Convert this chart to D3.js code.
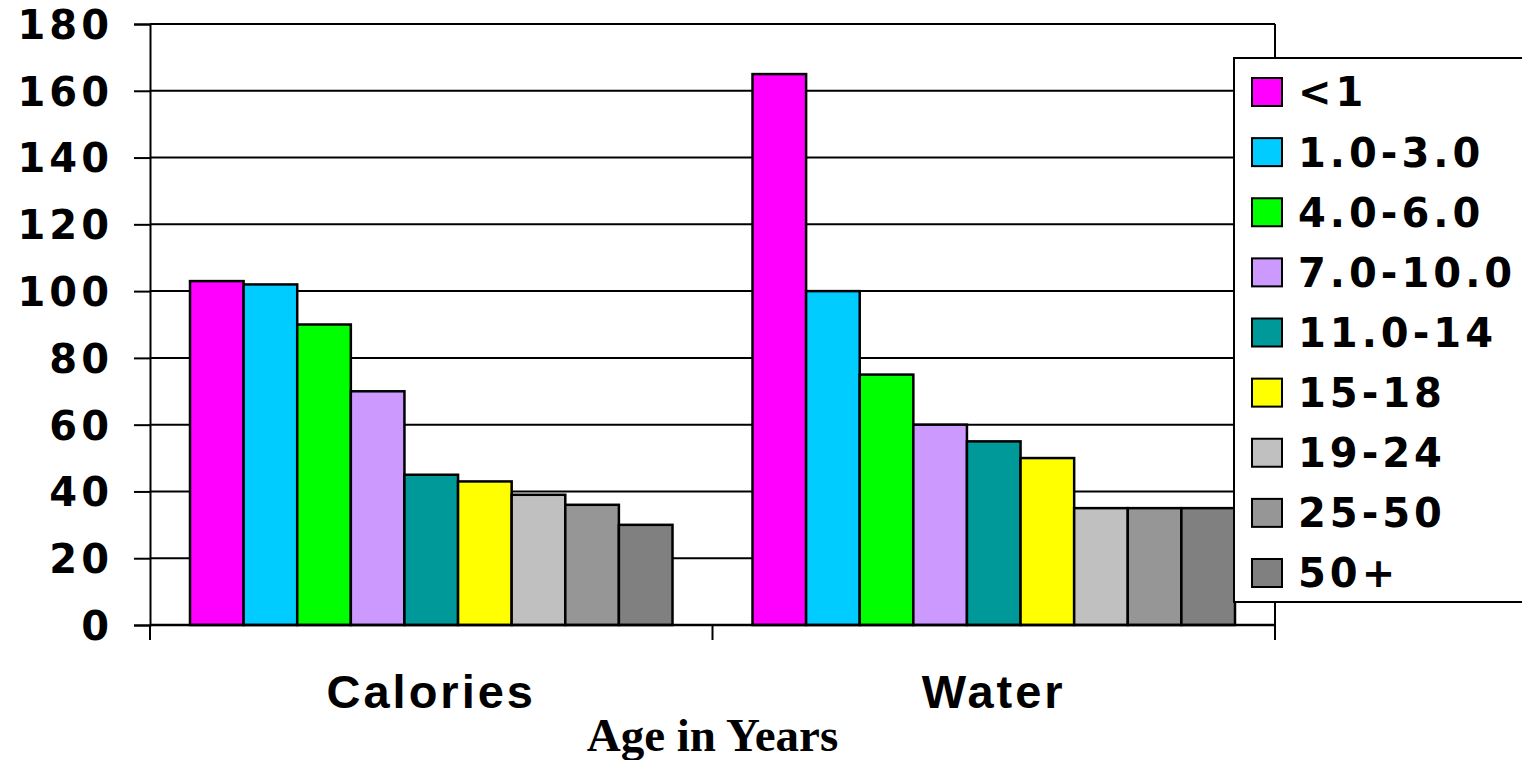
<!DOCTYPE html>
<html>
<head>
<meta charset="utf-8">
<script src="https://cdn.jsdelivr.net/npm/d3@7"></script>
<style>
  html, body { margin: 0; padding: 0; background: #ffffff; }
  svg { display: block; }
</style>
</head>
<body>
<svg id="chart" width="1522" height="760"></svg>
<script>
// Nutrient needs by age group (per kg of body weight)
const categories = ["Calories", "Water"];
const ageGroups = ["<1", "1.0-3.0", "4.0-6.0", "7.0-10.0", "11.0-14", "15-18", "19-24", "25-50", "50+"];
const caloriesValues = [103, 102, 90, 70, 45, 43, 39, 36, 30];
const waterValues = [165, 100, 75, 60, 55, 50, 35, 35, 35];
const yTicks = [0, 20, 40, 60, 80, 100, 120, 140, 160, 180];
const groupColors = ["#FF00FF", "#00CCFF", "#00FF00", "#CC99FF", "#009999", "#FFFF00", "#C0C0C0", "#969696", "#808080"];

const seriesByCategory = { Calories: caloriesValues, Water: waterValues };

const svg = d3.select("#chart");
const plot = { left: 150, top: 24, right: 1275, bottom: 625 };

const x0 = d3.scaleBand().domain(categories).range([plot.left, plot.right]).padding(0);
const x1 = d3.scaleBand().domain(ageGroups)
  .range([40, x0.bandwidth() - 40]).padding(0);
const y = d3.scaleLinear().domain([0, 180]).range([plot.bottom, plot.top]);
const color = d3.scaleOrdinal().domain(ageGroups).range(groupColors);

const axisFont = "'DejaVu Sans', Verdana, sans-serif";

// horizontal gridlines
svg.append("g")
  .selectAll("line")
  .data(yTicks.filter(t => t > 0))
  .join("line")
  .attr("x1", plot.left).attr("x2", plot.right)
  .attr("y1", d => y(d)).attr("y2", d => y(d))
  .attr("stroke", "#000").attr("stroke-width", 2);

// right edge of plot area
svg.append("line")
  .attr("x1", plot.right).attr("x2", plot.right)
  .attr("y1", plot.top).attr("y2", plot.bottom)
  .attr("stroke", "#000").attr("stroke-width", 2);

// bars
const groups = svg.append("g")
  .selectAll("g")
  .data(categories)
  .join("g")
  .attr("transform", d => `translate(${x0(d)},0)`);

groups.selectAll("rect")
  .data(c => ageGroups.map((g, i) => ({ group: g, value: seriesByCategory[c][i] })))
  .join("rect")
  .attr("x", d => x1(d.group))
  .attr("y", d => y(d.value))
  .attr("width", x1.bandwidth())
  .attr("height", d => y(0) - y(d.value))
  .attr("fill", d => color(d.group))
  .attr("stroke", "#000")
  .attr("stroke-width", 2.5);

// y axis
const yAxis = d3.axisLeft(y).tickValues(yTicks).tickSize(16).tickPadding(21);
const yG = svg.append("g").attr("transform", `translate(${plot.left},0)`).call(yAxis);
yG.select(".domain").attr("stroke", "#000").attr("stroke-width", 2);
yG.selectAll(".tick line").attr("stroke", "#000").attr("stroke-width", 2);
yG.selectAll(".tick text")
  .attr("fill", "#000")
  .style("font-family", axisFont)
  .style("font-weight", "bold")
  .style("font-size", "40px")
  .style("letter-spacing", "4px")
  .attr("dy", "0.36em");

// x axis: baseline, separators between categories, labels
svg.append("line")
  .attr("x1", plot.left).attr("x2", plot.right)
  .attr("y1", y(0)).attr("y2", y(0))
  .attr("stroke", "#000").attr("stroke-width", 2.5);

const boundaries = categories.map(c => x0(c)).concat([x0(categories[categories.length - 1]) + x0.bandwidth()]);
svg.append("g")
  .selectAll("line")
  .data(boundaries)
  .join("line")
  .attr("x1", d => d).attr("x2", d => d)
  .attr("y1", y(0)).attr("y2", y(0) + 15)
  .attr("stroke", "#000").attr("stroke-width", 2);

svg.append("g")
  .selectAll("text")
  .data(categories)
  .join("text")
  .attr("x", d => x0(d) + x0.bandwidth() / 2)
  .attr("y", 708)
  .attr("text-anchor", "middle")
  .style("font-family", "'Liberation Sans', Arial, sans-serif")
  .style("font-weight", "bold")
  .style("font-size", "47px")
  .style("letter-spacing", "3px")
  .text(d => d);

svg.append("text")
  .attr("x", (plot.left + plot.right) / 2)
  .attr("y", 751)
  .attr("text-anchor", "middle")
  .style("font-family", "'Liberation Serif', 'Times New Roman', serif")
  .style("font-weight", "bold")
  .style("font-size", "47px")
  .text("Age in Years");

// legend
const legend = svg.append("g");
legend.append("rect")
  .attr("x", 1234).attr("y", 58)
  .attr("width", 320).attr("height", 544)
  .attr("fill", "#fff")
  .attr("stroke", "#000").attr("stroke-width", 2);

const rowY = d3.scalePoint().domain(ageGroups).range([92, 573]);
const rows = legend.selectAll("g.row")
  .data(ageGroups)
  .join("g")
  .attr("class", "row")
  .attr("transform", d => `translate(0,${rowY(d)})`);

rows.append("rect")
  .attr("x", 1252).attr("y", -14)
  .attr("width", 30).attr("height", 28)
  .attr("fill", d => color(d))
  .attr("stroke", "#000").attr("stroke-width", 2);

rows.append("text")
  .attr("x", 1298).attr("y", 0)
  .attr("dy", "0.36em")
  .style("font-family", axisFont)
  .style("font-weight", "bold")
  .style("font-size", "40px")
  .style("letter-spacing", "4px")
  .text(d => d);
</script>
</body>
</html>
